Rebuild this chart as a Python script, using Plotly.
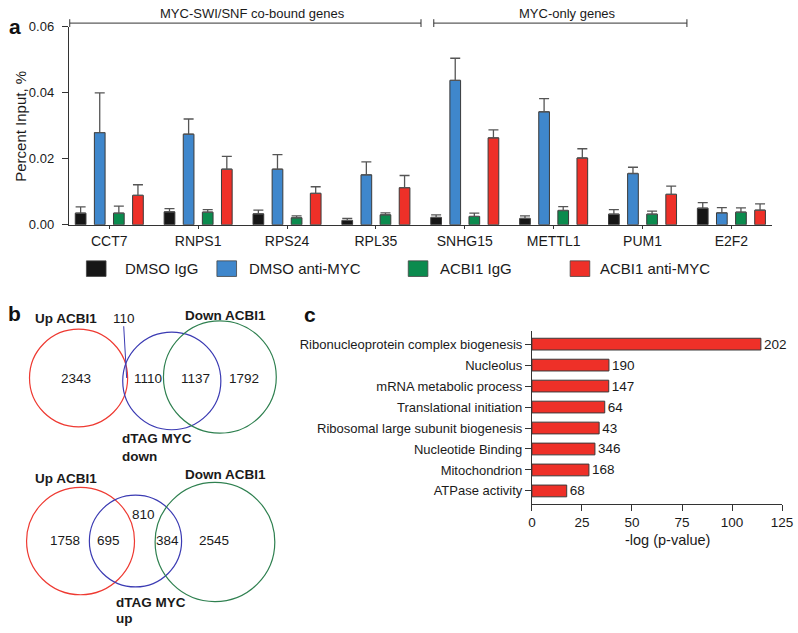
import plotly.graph_objects as go

W, H = 798, 633
FONT = "Arial, 'Liberation Sans', Helvetica, sans-serif"

# ---------------- Panel a data ----------------
genes = ['CCT7', 'RNPS1', 'RPS24', 'RPL35', 'SNHG15', 'METTL1', 'PUM1', 'E2F2']
series_names = ['DMSO IgG', 'DMSO anti-MYC', 'ACBI1 IgG', 'ACBI1 anti-MYC']
dmso_igg = [0.0035, 0.0039, 0.0033, 0.0013, 0.0022, 0.0019, 0.0032, 0.0050]
dmso_igg_err = [0.0019, 0.0010, 0.0011, 0.0006, 0.0008, 0.0008, 0.0014, 0.0017]
dmso_myc = [0.0279, 0.0274, 0.0168, 0.0151, 0.0437, 0.0342, 0.0155, 0.0036]
dmso_myc_err = [0.0120, 0.0046, 0.0044, 0.0039, 0.0067, 0.0040, 0.0019, 0.0016]
acbi_igg = [0.0035, 0.0038, 0.0021, 0.0030, 0.0025, 0.0043, 0.0032, 0.0038]
acbi_igg_err = [0.0021, 0.0008, 0.0006, 0.0006, 0.0010, 0.0012, 0.0009, 0.0013]
acbi_myc = [0.0089, 0.0168, 0.0095, 0.0112, 0.0263, 0.0202, 0.0092, 0.0044]
acbi_myc_err = [0.0032, 0.0039, 0.0020, 0.0037, 0.0024, 0.0028, 0.0025, 0.0019]
y_ticks = [0.00, 0.02, 0.04, 0.06]
group_labels = ['MYC-SWI/SNF co-bound genes', 'MYC-only genes']

# ---------------- Panel b data ----------------
venn_top_counts = [2343, 110, 1110, 1137, 1792]
venn_bottom_counts = [1758, 695, 810, 384, 2545]

# ---------------- Panel c data ----------------
go_terms = ['Ribonucleoprotein complex biogenesis', 'Nucleolus', 'mRNA metabolic process',
            'Translational initiation', 'Ribosomal large subunit biogenesis',
            'Nucleotide Binding', 'Mitochondrion', 'ATPase activity']
neg_log_p = [114.4, 38.5, 38.4, 36.4, 33.6, 31.5, 28.5, 17.4]
gene_counts = [202, 190, 147, 64, 43, 346, 168, 68]
c_ticks = [0, 25, 50, 75, 100, 125]

# ---------------- styles ----------------
colors = ['#161616', '#3f87cc', '#0b8b4e', '#ee3028']


def px(x):
    return x / W


def py(y):
    return 1 - y / H


fig = go.Figure()

vals = [dmso_igg, dmso_myc, acbi_igg, acbi_myc]
errs = [dmso_igg_err, dmso_myc_err, acbi_igg_err, acbi_myc_err]
xs = list(range(len(genes)))
for name, v, e, c in zip(series_names, vals, errs, colors):
    fig.add_trace(go.Bar(
        x=xs, y=v, name=name, marker=dict(color=c, line=dict(color='#3a3a3a', width=1)),
        error_y=dict(type='data', symmetric=False, array=e, arrayminus=[0] * len(e),
                     color='#555555', thickness=1.3, width=5),
        xaxis='x', yaxis='y', showlegend=False, hoverinfo='skip',
    ))

# Panel c bars
ypos = list(range(len(go_terms)))
fig.add_trace(go.Bar(
    x=neg_log_p, y=ypos, orientation='h', width=0.56,
    marker=dict(color='#ee3028', line=dict(color='#3a3a3a', width=1)),
    text=[str(g) for g in gene_counts], textposition='outside', constraintext='none',
    textfont=dict(size=13.5, color='#1a1a1a', family=FONT), cliponaxis=False,
    xaxis='x2', yaxis='y2', showlegend=False, hoverinfo='skip',
))

shapes = []
annotations = []

# Panel a brackets
brackets = [(67, 425), (438, 696)]
for (x0, x1), lab in zip(brackets, group_labels):
    shapes.append(dict(type='line', xref='paper', yref='paper', x0=px(x0), x1=px(x1),
                       y0=py(16.5), y1=py(16.5), line=dict(color='#333', width=1)))
    for xx in (x0, x1):
        shapes.append(dict(type='line', xref='paper', yref='paper', x0=px(xx), x1=px(xx),
                           y0=py(12.5), y1=py(20.5), line=dict(color='#333', width=1)))
    annotations.append(dict(text=lab, x=px((x0 + x1) / 2 + 7), y=py(6.5), xref='paper', yref='paper',
                            showarrow=False, font=dict(size=13, color='#1a1a1a', family=FONT),
                            xanchor='center', yanchor='middle'))

# Panel a legend (manual)
leg_sq = [84, 217, 412, 577]
leg_tx = [121, 248, 442, 605]
for sx, tx, c, name in zip(leg_sq, leg_tx, colors, series_names):
    shapes.append(dict(type='rect', xref='paper', yref='paper', x0=px(sx), x1=px(sx + 20),
                       y0=py(276), y1=py(260), fillcolor=c, line=dict(color='#444', width=0.8)))
    annotations.append(dict(text=name, x=px(tx), y=py(268), xref='paper', yref='paper',
                            showarrow=False, xanchor='left', yanchor='middle',
                            font=dict(size=15, color='#1a1a1a', family=FONT)))

# Panel letters
for letter, (lx, ly) in zip(['a', 'b', 'c'], [(3, 20), (2, 314), (304, 315)]):
    annotations.append(dict(text='<b>' + letter + '</b>', x=px(lx), y=py(ly), xref='paper', yref='paper',
                            showarrow=False, xanchor='left', yanchor='middle',
                            font=dict(size=21, color='#111', family=FONT)))

# y title panel a
annotations.append(dict(text='Percent Input, %', x=px(16), y=py(122), xref='paper', yref='paper',
                        showarrow=False, textangle=-90, xanchor='center', yanchor='middle',
                        font=dict(size=15, color='#1a1a1a', family=FONT)))

# x title panel c
annotations.append(dict(text='-log (p-value)', x=px(676), y=py(546), xref='paper', yref='paper',
                        showarrow=False, xanchor='center', yanchor='middle',
                        font=dict(size=14.5, color='#1a1a1a', family=FONT)))

# ---------------- Venn diagrams (axis x3/y3 in pixel units) ----------------
RED_C, BLUE_C, GREEN_C = '#ee3a32', '#3b3bb3', '#2f8050'
circ_top = [((76, 380), 50, RED_C), ((171, 383), 50, BLUE_C), ((220, 379), 57.5, GREEN_C)]
circ_bot = [((78, 547), 55, RED_C), ((134, 547), 47, BLUE_C), ((215, 548), 61, GREEN_C)]
for (cx, cy), r, c in circ_top + circ_bot:
    shapes.append(dict(type='circle', xref='x3', yref='y3', x0=cx - r, x1=cx + r, y0=cy - r, y1=cy + r,
                       line=dict(color=c, width=1.2)))

pos_top = [(73, 381), (122, 319), (147, 381), (195, 381), (245, 381)]
pos_bot = [(62, 546), (107, 546), (142, 520), (167, 546), (214, 546)]
for counts, poss in ((venn_top_counts, pos_top), (venn_bottom_counts, pos_bot)):
    for n, (x, y) in zip(counts, poss):
        annotations.append(dict(text=str(n), x=x, y=y, xref='x3', yref='y3', showarrow=False,
                                xanchor='center', yanchor='middle',
                                font=dict(size=13.5, color='#1a1a1a', family=FONT)))
# leader line for 110
shapes.append(dict(type='line', xref='x3', yref='y3', x0=122, y0=327, x1=125, y1=380,
                   line=dict(color=BLUE_C, width=1)))

venn_labels = [('Up ACBI1', 63, 319, 'center'), ('Down ACBI1', 226, 316, 'center'),
               ('dTAG MYC', 118, 442, 'left'), ('down', 118, 460, 'left'),
               ('Up ACBI1', 63, 483, 'center'), ('Down ACBI1', 226, 479, 'center'),
               ('dTAG MYC', 112, 610, 'left'), ('up', 112, 626, 'left')]
for t, x, y, anc in venn_labels:
    annotations.append(dict(text='<b>' + t + '</b>', x=x, y=y, xref='x3', yref='y3', showarrow=False,
                            xanchor=anc, yanchor='middle',
                            font=dict(size=13.5, color='#1a1a1a', family=FONT)))

axis_common = dict(showgrid=False, zeroline=False, showline=True, linecolor='#333', linewidth=1,
                   ticks='outside', tickcolor='#333', ticklabeloverflow='allow')

fig.update_layout(
    width=W, height=H, margin=dict(l=0, r=0, t=0, b=0),
    paper_bgcolor='white', plot_bgcolor='white',
    font=dict(family=FONT, color='#1a1a1a'),
    barmode='group', bargap=0.14, bargroupgap=0.44, hovermode=False,
    xaxis=dict(domain=[px(66), px(783)], range=[-0.456, 7.46], tickmode='array', tickvals=xs,
               ticktext=genes, ticklen=3, anchor='y',
               tickfont=dict(size=14, color='#1a1a1a', family=FONT), **axis_common),
    yaxis=dict(domain=[py(223), py(20)], range=[0, 0.06], tickmode='array', tickvals=y_ticks,
               ticktext=['%.2f' % t for t in y_ticks], ticklen=6, anchor='x', ticklabelstandoff=5,
               tickfont=dict(size=13, color='#1a1a1a', family=FONT), **axis_common),
    xaxis2=dict(domain=[px(538), px(793)], range=[0, 125], tickmode='array', tickvals=c_ticks,
                ticklen=6, anchor='y2',
                tickfont=dict(size=13.5, color='#1a1a1a', family=FONT), **axis_common),
    yaxis2=dict(domain=[py(509), py(332)], range=[7.62, -0.62], tickmode='array', tickvals=ypos,
                ticktext=go_terms, ticklen=6, anchor='x2',
                tickfont=dict(size=13, color='#1a1a1a', family=FONT), **axis_common),
    xaxis3=dict(domain=[0, px(300)], range=[0, 300], visible=False, anchor='y3'),
    yaxis3=dict(domain=[0, py(300)], range=[633, 300], visible=False, anchor='x3'),
    shapes=shapes, annotations=annotations,
)

fig.write_html("out.html", config={'displayModeBar': False, 'staticPlot': True},
               post_script="document.body.style.margin='0';document.body.style.overflow='hidden';")
